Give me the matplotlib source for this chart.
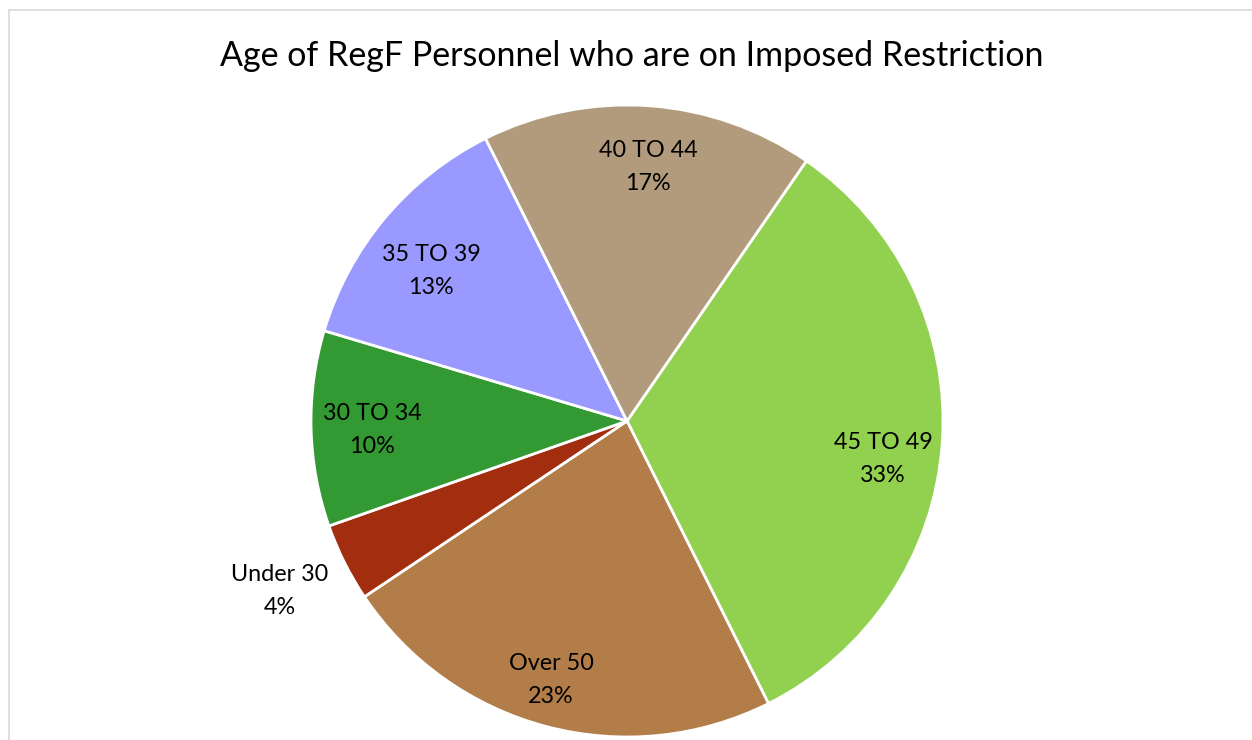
import matplotlib
matplotlib.use("Agg")
import matplotlib.pyplot as plt
import numpy as np
from matplotlib.patches import Rectangle

categories = ["45 TO 49", "Over 50", "Under 30", "30 TO 34", "35 TO 39", "40 TO 44"]
values = [33, 23, 4, 10, 13, 17]
colors = ["#92D050", "#B27D49", "#A32D0F", "#339933", "#9999FF", "#B29B7C"]
title = "Age of RegF Personnel who are on Imposed Restriction"

plt.rcParams['font.family'] = ['Lato', 'DejaVu Sans']

W, H = 1252, 740
fig = plt.figure(figsize=(W / 100, H / 100), dpi=100)
fig.patch.set_facecolor("white")

# chart border (extends past right and bottom edges)
fig.add_artist(Rectangle((9 / W, -0.2), 1.2, (H - 10) / H + 0.2, transform=fig.transFigure,
                         fill=False, edgecolor="#D9D9D9", linewidth=1.2))

cx, cy, r = 627, 421, 316
ax = fig.add_axes([(cx - r) / W, (H - cy - r) / H, 2 * r / W, 2 * r / H])
wedges, _ = ax.pie(values, colors=colors, startangle=55.4, counterclock=False,
                   radius=1, wedgeprops=dict(edgecolor="white", linewidth=2.0))
ax.set_xlim(-1, 1)
ax.set_ylim(-1, 1)
ax.set_aspect("equal")
ax.axis("off")

total = sum(values)
# label placement (layout, in pixels of the figure): best-fit style positions
label_px = [(883, 459), (551, 680), (280, 591), (372, 430), (431, 271), (648, 167)]
for cat, v, (px, py) in zip(categories, values, label_px):
    x, y = (px - cx) / r, (cy - py) / r
    ax.text(x, y, f"{cat}\n{v / total * 100:.0f}%", ha="center", va="center",
            fontsize=16.8, color="black", linespacing=1.7, clip_on=False)

fig.text(632 / W, 1 - 56 / H, title, ha="center", va="center", fontsize=24.5, color="black")

fig.savefig("out.png", dpi=100)
